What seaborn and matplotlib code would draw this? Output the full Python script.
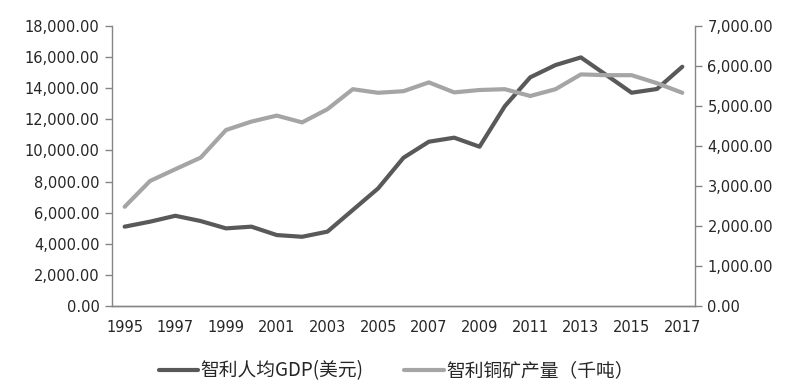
import numpy as np
import pandas as pd
import matplotlib
matplotlib.use("Agg")
import matplotlib.pyplot as plt
from matplotlib.ticker import FuncFormatter, MultipleLocator, FixedLocator
import seaborn as sns

# data
years = list(range(1995, 2018))
gdp_usd = [5100, 5420, 5800, 5460, 4990, 5100, 4560, 4450, 4780, 6170,
           7560, 9530, 10560, 10820, 10240, 12850, 14700, 15490, 15980, 14850,
           13710, 13950, 15380]
copper_kt = [2480, 3125, 3420, 3710, 4400, 4610, 4760, 4590, 4920, 5420,
             5330, 5370, 5590, 5340, 5400, 5420, 5250, 5420, 5790, 5770,
             5770, 5570, 5330]
label_gdp = "智利人均GDP(美元)"
label_cu = "智利铜矿产量（千吨）"

df = pd.DataFrame({"year": years, "gdp": gdp_usd, "copper": copper_kt})

sns.set_style("white")
plt.rcParams['font.family'] = ['DejaVu Sans', 'Noto Sans CJK SC']

fig = plt.figure(figsize=(7.92, 3.92), dpi=100)
ax = fig.add_axes([0.1414, 0.2194, 0.7361, 0.7143])
ax2 = ax.twinx()

dark = "#595959"
light = "#a5a5a5"
spine_col = "#868686"

sns.lineplot(data=df, x="year", y="gdp", ax=ax, color=dark, linewidth=3,
             label=label_gdp, legend=False)
sns.lineplot(data=df, x="year", y="copper", ax=ax2, color=light, linewidth=3,
             label=label_cu, legend=False)

ax.set_xlim(1994.5, 2017.5)
ax.set_ylim(0, 18000)
ax2.set_ylim(0, 7000)

# labels every other year, tick marks on category boundaries
ax.xaxis.set_major_locator(FixedLocator(years[::2]))
ax.xaxis.set_minor_locator(FixedLocator(np.arange(1994.5, 2017, 2)))
ax.tick_params(axis='x', which='major', length=0, pad=10, labelsize=10.5)
ax.tick_params(axis='x', which='minor', length=5, width=1, color=spine_col, direction='out')
ax.yaxis.set_major_locator(MultipleLocator(2000))
ax2.yaxis.set_major_locator(MultipleLocator(1000))
fmt = FuncFormatter(lambda v, p: f"{v:,.2f}")
ax.yaxis.set_major_formatter(fmt)
ax2.yaxis.set_major_formatter(fmt)
ax.tick_params(axis='y', length=5, width=1, color=spine_col, direction='out', labelsize=10.5, pad=4)
ax2.tick_params(axis='y', length=5, width=1, color=spine_col, direction='out', labelsize=10.5, pad=4)

ax.set_xlabel("")
ax.set_ylabel("")
ax2.set_ylabel("")

for a in (ax, ax2):
    a.spines['top'].set_visible(False)
    for s in ('left', 'right', 'bottom'):
        a.spines[s].set_color(spine_col)
        a.spines[s].set_linewidth(1)
ax.spines['right'].set_visible(False)
ax2.spines['left'].set_visible(False)

h1, l1 = ax.get_legend_handles_labels()
h2, l2 = ax2.get_legend_handles_labels()
fig.legend(h1 + h2, l1 + l2, loc='center', bbox_to_anchor=(0.5, 0.054), ncol=2,
           frameon=False, handlelength=2.1, handletextpad=0.12, columnspacing=2.2,
           prop={'family': ['Noto Sans CJK SC', 'DejaVu Sans'], 'size': 13.5})

fig.savefig("out.png", dpi=100)
